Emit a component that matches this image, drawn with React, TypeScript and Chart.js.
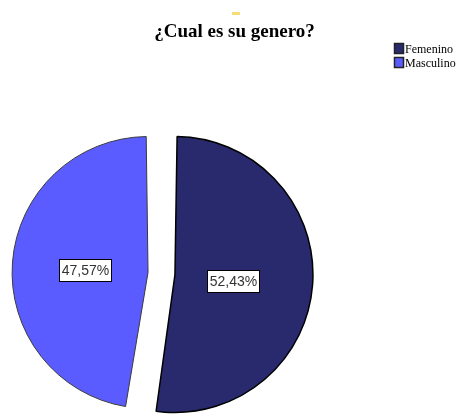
import React, { useEffect, useRef } from "react";
import { Chart, registerables } from "chart.js";

Chart.register(...registerables);

const categories = ["Femenino", "Masculino"];
const percentages = [52.43, 47.57];
const percentLabels = ["52,43%", "47,57%"];
const sliceColors = ["#292a6e", "#5b5cff"];
const sliceBorders = ["#000000", "#3a3a3a"];
const chartTitle = "¿Cual es su genero?";

const OFFSET = 54; // Chart.js shifts arcs by offset / 4

const overlayPlugin = {
  id: "spssOverlay",
  afterDatasetsDraw(chart: any) {
    const ctx = chart.ctx;
    const meta = chart.getDatasetMeta(0);
    ctx.save();
    ctx.font = "14px 'Liberation Sans', Arial, sans-serif";
    ctx.textAlign = "center";
    ctx.textBaseline = "middle";
    meta.data.forEach((arc: any, i: number) => {
      const p = arc.getProps(["x", "y", "startAngle", "endAngle", "outerRadius"], true);
      const mid = (p.startAngle + p.endAngle) / 2;
      const off = (arc.options.offset || 0) / 4;
      const circ = p.endAngle - p.startAngle;
      const fix = 1 - Math.sin(Math.min(Math.PI, circ));
      const r = p.outerRadius + off * fix;
      const half = circ / 2;
      const centroid = (2 * r * Math.sin(half)) / (3 * half);
      const dist = off + centroid + 3;
      const cx = p.x + Math.cos(mid) * dist;
      const cy = p.y + Math.sin(mid) * dist + 2;
      const text = percentLabels[i];
      const w = Math.round(ctx.measureText(text).width + 5);
      const h = 22;
      const bx = Math.round(cx - w / 2) + 0.5;
      const by = Math.round(cy - h / 2) + 0.5;
      ctx.fillStyle = "#ffffff";
      ctx.fillRect(bx, by, w, h);
      ctx.strokeStyle = "#000000";
      ctx.lineWidth = 1;
      ctx.strokeRect(bx, by, w, h);
      ctx.fillStyle = "#333333";
      ctx.fillText(text, bx + w / 2, by + h / 2 + 1);
    });
    ctx.restore();
  },
  afterDraw(chart: any) {
    const ctx = chart.ctx;
    ctx.save();
    ctx.fillStyle = "#f7dc7a";
    ctx.fillRect(232, 12, 8, 3);
    ctx.fillStyle = "#000000";
    ctx.font = "bold 19px 'Liberation Serif', 'Times New Roman', serif";
    ctx.textAlign = "center";
    ctx.textBaseline = "alphabetic";
    ctx.fillText(chartTitle, 234.5, 37);
    ctx.font = "12px 'Liberation Serif', 'Times New Roman', serif";
    ctx.textAlign = "left";
    ctx.textBaseline = "alphabetic";
    categories.forEach((c, i) => {
      const y = 43 + i * 14;
      ctx.fillStyle = sliceColors[i];
      ctx.fillRect(394, y, 10, 11);
      ctx.strokeStyle = "#222222";
      ctx.lineWidth = 1.5;
      ctx.strokeRect(394.5, y + 0.5, 9, 10);
      ctx.fillStyle = "#000000";
      ctx.fillText(c, 405, y + 10);
    });
    ctx.restore();
  },
};

export default function App() {
  const canvasRef = useRef<HTMLCanvasElement | null>(null);

  useEffect(() => {
    const canvas = canvasRef.current;
    if (!canvas) return;
    const chart = new Chart(canvas, {
      type: "pie",
      data: {
        labels: categories,
        datasets: [
          {
            data: percentages,
            backgroundColor: sliceColors,
            borderColor: sliceBorders,
            borderWidth: [1.5, 1],
            offset: OFFSET,
            hoverOffset: 0,
            clip: false,
          } as any,
        ],
      },
      options: {
        responsive: false,
        animation: false,
        events: [],
        radius: 124.5,
        layout: { padding: { left: 0, right: 138, top: 148, bottom: 15 } },
        plugins: {
          legend: { display: false },
          title: { display: false },
          tooltip: { enabled: false },
        },
      } as any,
      plugins: [overlayPlugin],
    });
    return () => chart.destroy();
  }, []);

  return (
    <div style={{ position: "fixed", left: 0, top: 0, width: 461, height: 414, background: "#ffffff" }}>
      <canvas ref={canvasRef} width={461} height={414} style={{ width: 461, height: 414, display: "block" }} />
    </div>
  );
}
